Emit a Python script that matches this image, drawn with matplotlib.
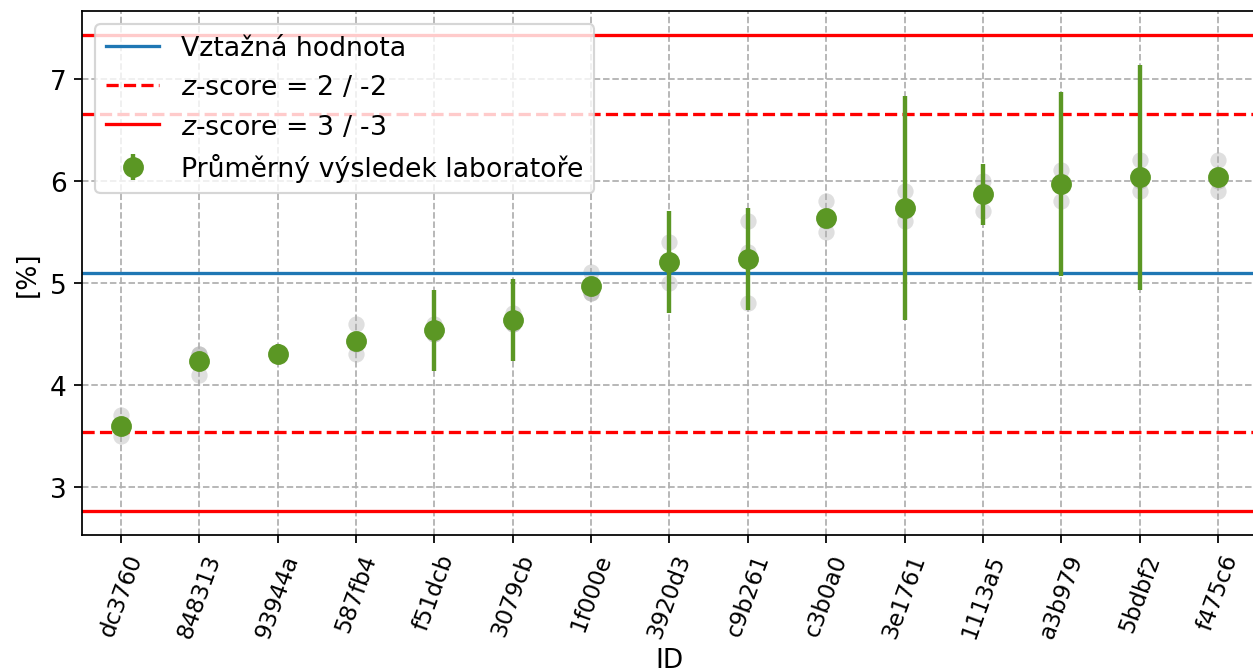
import matplotlib
matplotlib.use("Agg")
import matplotlib.pyplot as plt

# lab IDs
labs = ["dc3760", "848313", "93944a", "587fb4", "f51dcb", "3079cb", "1f000e",
        "3920d3", "c9b261", "c3b0a0", "3e1761", "1113a5", "a3b979", "5bdbf2", "f475c6"]

# individual results (3 per lab)
results = [
    [3.7, 3.6, 3.5],
    [4.3, 4.3, 4.1],
    [4.3, 4.3, 4.3],
    [4.6, 4.4, 4.3],
    [4.6, 4.5, 4.5],
    [4.7, 4.6, 4.6],
    [5.1, 4.9, 4.9],
    [5.4, 5.2, 5.0],
    [5.6, 5.3, 4.8],
    [5.8, 5.6, 5.5],
    [5.9, 5.7, 5.6],
    [6.0, 5.9, 5.7],
    [6.1, 6.0, 5.8],
    [6.2, 6.0, 5.9],
    [6.2, 6.0, 5.9],
]

# lab means and their uncertainties
means = [3.600, 4.233, 4.300, 4.433, 4.533, 4.633, 4.967, 5.200, 5.233,
         5.633, 5.733, 5.867, 5.967, 6.033, 6.033]
uncert = [0.0, 0.0, 0.1, 0.0, 0.4, 0.4, 0.0, 0.5, 0.5, 0.0, 1.1, 0.3, 0.9, 1.1, 0.0]

ref_value = 5.095
sigma = 0.778

dpi = 158
fig = plt.figure(figsize=(1253 / dpi, 672 / dpi), dpi=dpi)
# axes run slightly past the right edge, as in the reference
ax = fig.add_axes([81.8 / 1253, 136 / 672, 1175.4 / 1253, 524 / 672])

ax.axhline(ref_value, color="tab:blue", label="Vztažná hodnota")
ax.axhline(ref_value + 2 * sigma, color="red", ls="--", label="$z$-score = 2 / -2")
ax.axhline(ref_value - 2 * sigma, color="red", ls="--")
ax.axhline(ref_value + 3 * sigma, color="red", label="$z$-score = 3 / -3")
ax.axhline(ref_value - 3 * sigma, color="red")

for i, vals in enumerate(results):
    ax.scatter([i] * len(vals), vals, color="grey", alpha=0.25, s=55, linewidths=0)

ax.errorbar(range(len(labs)), means, yerr=uncert, fmt="o", color="#5b9724",
            ms=8.5, elinewidth=2, label="Průměrný výsledek laboratoře")

ax.set_xlim(-0.5, 14.5)
ax.set_xticks(range(len(labs)))
ax.set_xticklabels(labs, rotation=70, fontsize=10.5)
ax.set_yticks([3, 4, 5, 6, 7])
ax.tick_params(axis="y", labelsize=12)
ax.set_xlabel("ID", fontsize=12, labelpad=3)
ax.set_ylabel("[%]", fontsize=12)
ax.grid(True, linestyle="--")
ax.legend(loc="upper left", fontsize=12.2)

fig.savefig("out.png", dpi=dpi)
